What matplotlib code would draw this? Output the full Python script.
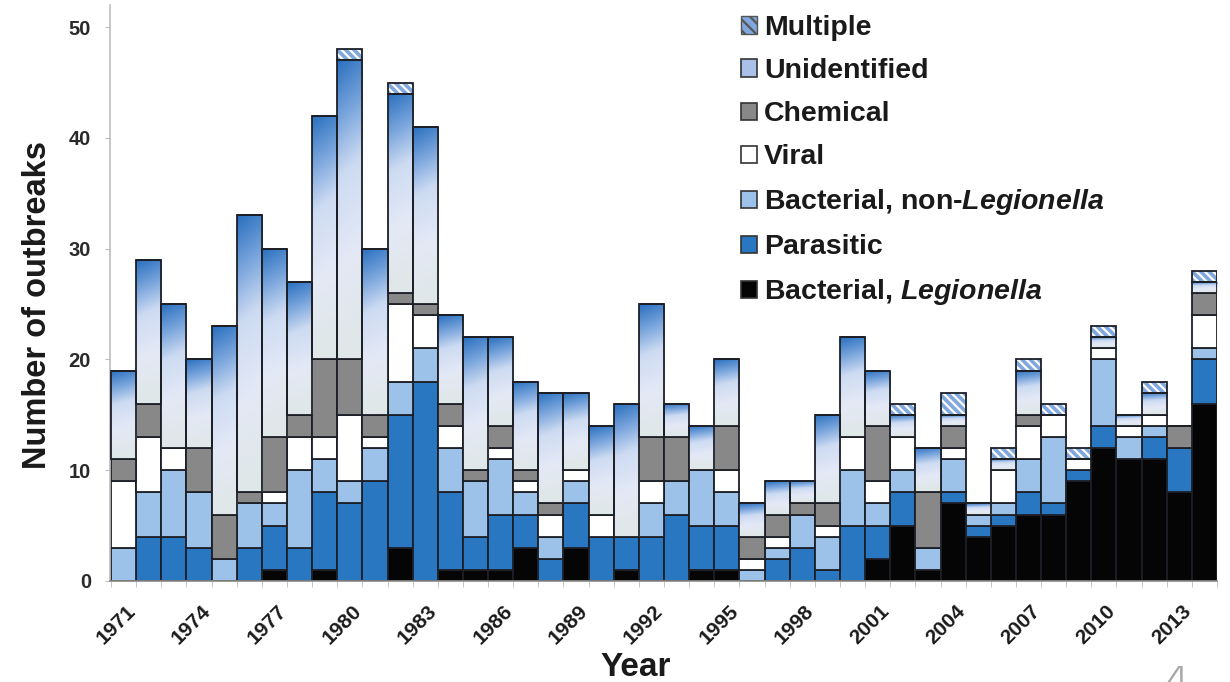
import numpy as np
import matplotlib
matplotlib.use("Agg")
import matplotlib.pyplot as plt
from matplotlib.patches import Patch
from matplotlib.colors import LinearSegmentedColormap
from matplotlib.transforms import ScaledTranslation

plt.rcParams["font.family"] = ["Liberation Sans", "DejaVu Sans"]
plt.rcParams["font.weight"] = "bold"
plt.rcParams["mathtext.fontset"] = "custom"
plt.rcParams["mathtext.it"] = "Liberation Sans:italic:bold"
plt.rcParams["mathtext.rm"] = "Liberation Sans:bold"
plt.rcParams["hatch.linewidth"] = 1.6

YEARS = list(range(1971, 2015))
# stacked from the bottom up
LEGIONELLA = [0, 0, 0, 0, 0, 0, 1, 0, 1, 0, 0, 3, 0, 1, 1, 1, 3, 0, 3, 0, 1, 0,
              0, 1, 1, 0, 0, 0, 0, 0, 2, 5, 1, 7, 4, 5, 6, 6, 9, 12, 11, 11, 8, 16]
PARASITIC = [0, 4, 4, 3, 0, 3, 4, 3, 7, 7, 9, 12, 18, 7, 3, 5, 3, 2, 4, 4, 3, 4,
             6, 4, 4, 0, 2, 3, 1, 5, 3, 3, 0, 1, 1, 1, 2, 1, 1, 2, 0, 2, 4, 4]
BACTERIAL_NON_LEG = [3, 4, 6, 5, 2, 4, 2, 7, 3, 2, 3, 3, 3, 4, 5, 5, 2, 2, 2, 0, 0, 3,
                     3, 5, 3, 1, 1, 3, 3, 5, 2, 2, 2, 3, 1, 1, 3, 6, 0, 6, 2, 1, 0, 1]
VIRAL = [6, 5, 2, 0, 0, 0, 1, 3, 2, 6, 1, 7, 3, 2, 0, 1, 1, 2, 1, 2, 0, 2,
         0, 0, 2, 1, 1, 0, 1, 3, 2, 3, 0, 1, 0, 3, 3, 2, 1, 1, 1, 1, 0, 3]
CHEMICAL = [2, 3, 0, 4, 4, 1, 5, 2, 7, 5, 2, 1, 1, 2, 1, 2, 1, 1, 0, 0, 0, 4,
            4, 0, 4, 2, 2, 1, 2, 0, 5, 0, 5, 2, 0, 0, 1, 0, 0, 0, 0, 0, 2, 2]
UNIDENTIFIED = [8, 13, 13, 8, 17, 25, 17, 12, 22, 27, 15, 18, 16, 8, 12, 8, 8, 10, 7, 8, 12, 12,
                3, 4, 6, 3, 3, 2, 8, 9, 5, 2, 4, 1, 1, 1, 4, 0, 0, 1, 1, 2, 0, 1]
MULTIPLE = [0, 0, 0, 0, 0, 0, 0, 0, 0, 1, 0, 1, 0, 0, 0, 0, 0, 0, 0, 0, 0, 0,
            0, 0, 0, 0, 0, 0, 0, 0, 0, 1, 0, 2, 0, 1, 1, 1, 1, 1, 0, 1, 0, 1]

EDGE = "#1c1f26"
TEXT = "#1a1a1a"
COLORS = {
    "leg": "#050505",
    "par": "#2a77c1",
    "bac": "#9cc2e9",
    "vir": "#ffffff",
    "chem": "#888888",
    "unid": "#a9c1e8",
    "mult": "#80a8de",
}

unid_cmap = LinearSegmentedColormap.from_list(
    "unid",
    [(0.0, "#dfe7e8"), (0.3, "#e4e9f6"), (0.6, "#cddbf2"),
     (0.8, "#78a4dc"), (1.0, "#2a70bf")],
)

fig = plt.figure(figsize=(12.3, 6.82), dpi=100)
ax = fig.add_axes([110 / 1230, 101 / 682, 1107 / 1230, 576 / 682])

x = np.arange(len(YEARS))
bottom = np.zeros(len(YEARS))
layers = [
    ("leg", LEGIONELLA),
    ("par", PARASITIC),
    ("bac", BACTERIAL_NON_LEG),
    ("vir", VIRAL),
    ("chem", CHEMICAL),
    ("unid", UNIDENTIFIED),
    ("mult", MULTIPLE),
]

# gradient tile for the "Unidentified" segments
gy, gx = np.mgrid[0:1:120j, 0:1:30j]
grad = np.clip(gy[::-1] - 0.08 * gx, 0, 1)
grad_rgba = unid_cmap(grad)

for key, vals in layers:
    vals = np.array(vals, dtype=float)
    if key == "unid":
        bars = ax.bar(x, vals, bottom=bottom, width=1.0, facecolor="none",
                      edgecolor=EDGE, linewidth=1.3, zorder=3)
        for b, v in zip(bars, vals):
            if v <= 0:
                continue
            x0, y0 = b.get_x(), b.get_y()
            im = ax.imshow(grad_rgba, extent=[x0, x0 + b.get_width(), y0, y0 + b.get_height()],
                           aspect="auto", origin="upper", zorder=2, interpolation="bilinear")
            im.set_clip_path(b)
    elif key == "mult":
        ax.bar(x, vals, bottom=bottom, width=1.0, facecolor=COLORS[key],
               edgecolor="white", linewidth=0, hatch="\\\\\\\\", zorder=2)
        ax.bar(x, vals, bottom=bottom, width=1.0, facecolor="none",
               edgecolor=EDGE, linewidth=1.3, zorder=3)
    else:
        ax.bar(x, vals, bottom=bottom, width=1.0, color=COLORS[key],
               edgecolor=EDGE, linewidth=1.3, zorder=2)
    bottom += vals

ax.set_xlim(-0.54, len(YEARS) - 0.5)
ax.set_ylim(0, 52)

for side in ("top", "right"):
    ax.spines[side].set_visible(False)
ax.spines["left"].set_color("#bdbdbd")
ax.spines["left"].set_linewidth(1.2)
ax.spines["bottom"].set_color("#8a8a8a")
ax.spines["bottom"].set_linewidth(1.2)

ax.set_yticks(range(0, 51, 10))
ax.tick_params(axis="y", length=3.6, color="#bdbdbd", labelsize=14.5, labelcolor="#2a2a2a", pad=10)
ax.set_xticks(x[::3])
ax.set_xticklabels([str(y) for y in YEARS[::3]], rotation=45, ha="right",
                   rotation_mode="anchor", fontsize=15, color=TEXT)
ax.set_xticks(np.arange(-0.5, len(YEARS), 1), minor=True)
ax.tick_params(axis="x", which="major", length=0, pad=15)
ax.tick_params(axis="x", which="minor", length=4, color="#bdbdbd")
shift = ScaledTranslation(2 / 100, 0, fig.dpi_scale_trans)
for lbl in ax.get_xticklabels():
    lbl.set_transform(lbl.get_transform() + shift)

fig.text(38 / 1230, 1 - 305 / 682, "Number of outbreaks", fontsize=23.5, rotation=90,
         ha="center", va="center", color=TEXT)
fig.text(636 / 1230, 1 - 668 / 682, "Year", fontsize=24, ha="center", va="center", color=TEXT)

handles = [
    Patch(facecolor=COLORS["mult"], edgecolor="#555555", hatch="\\\\\\", linewidth=1),
    Patch(facecolor=COLORS["unid"], edgecolor="#333333", linewidth=1.2),
    Patch(facecolor=COLORS["chem"], edgecolor="#333333", linewidth=1.2),
    Patch(facecolor="white", edgecolor="#333333", linewidth=1.2),
    Patch(facecolor=COLORS["bac"], edgecolor="#333333", linewidth=1.2),
    Patch(facecolor=COLORS["par"], edgecolor="#333333", linewidth=1.2),
    Patch(facecolor=COLORS["leg"], edgecolor="#333333", linewidth=1.2),
]
labels = ["Multiple", "Unidentified", "Chemical", "Viral",
          r"Bacterial, non-$\it{Legionella}$", "Parasitic", r"Bacterial, $\it{Legionella}$"]
fig.legend(handles, labels, loc="upper left", bbox_to_anchor=(741 / 1230, 1 - 15 / 682),
           frameon=False, fontsize=20.5, handlelength=0.55, handleheight=0.55,
           handletextpad=0.25, labelspacing=0.6, borderpad=0, borderaxespad=0,
           labelcolor=TEXT)

fig.text(1175 / 1230, -0.03, "4", fontsize=36, fontweight="light", family="DejaVu Sans",
         color="#a8a8a8", ha="center", va="baseline")

fig.savefig("out.png", dpi=100)
